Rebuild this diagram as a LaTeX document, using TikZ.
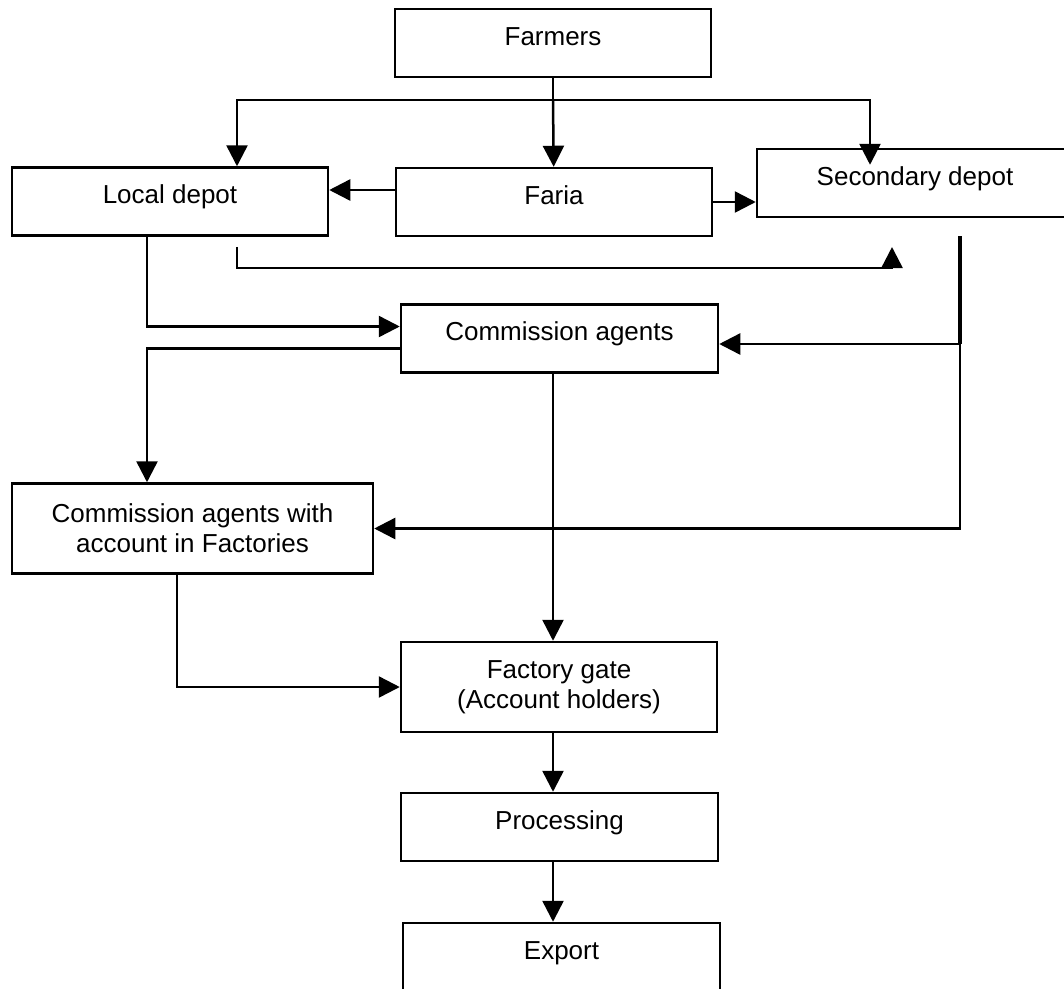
\documentclass[tikz,border=0pt]{standalone}
\usepackage{fontspec}
\setmainfont{Liberation Sans}
\usetikzlibrary{arrows.meta}
\newcommand{\boxwidth}{316pt}
\newcommand{\boxfont}{\fontsize{26pt}{30pt}\selectfont}

\begin{document}
\begin{tikzpicture}[x=1pt,y=-1pt,
  box/.style={draw, line width=2.5pt, minimum width=\boxwidth, inner sep=0pt, font=\boxfont},
  oneline/.style={text height=36pt, text depth=32pt},
  twoline/.style={align=center, minimum height=90pt},
  link/.style={line width=2.5pt},
  arr/.style={link, -{Triangle[length=21pt,width=21pt]}}]

 \useasboundingbox (0,0) rectangle (1064,988);

 \node[box,oneline] (farmers) at (553,43) {Farmers};
 \node[box,oneline] (localdepot) at (170,201.5) {Local depot};
 \node[box,oneline] (faria) at (554,202) {Faria};
 \node[box,oneline] (secdepot) at (915,183) {Secondary depot};
 \node[box,oneline,minimum width=317pt] (agents) at (559.5,338.5) {Commission agents};
 \node[box,twoline,minimum width=361pt] (agentsacc) at (192.5,528.5) {Commission agents with\\account in Factories};
 \node[box,twoline] (gate) at (559,687) {Factory gate\\(Account holders)};
 \node[box,oneline,minimum width=317pt] (processing) at (559.5,827) {Processing};
 \node[box,oneline,minimum width=317pt] (export) at (561.5,957) {Export};

 \coordinate (split) at (553,100);
 \coordinate (sdarrow) at (892,247);
 \coordinate (sdfoot) at (960,236);
 \coordinate (sdknee) at (960,344);

 \draw[link] (farmers) -- (split);
 \draw[arr] (split) -| ([xshift=67pt]localdepot.north);
 \draw[arr] (split) -- (faria);
 \draw[arr] (split) -| ([xshift=-45pt,yshift=-17pt]secdepot.north);
 \draw[arr] ([yshift=12pt]faria.west) -- ([yshift=12pt]faria.west -| localdepot.east);
 \draw[arr] (faria.east) -- (faria.east -| secdepot.west);

 \draw[arr] ([xshift=-23pt]localdepot.south) |- ([yshift=12pt]agents.west);
 \draw[arr] ([xshift=67pt,yshift=-10pt]localdepot.south) |- ([yshift=-21pt]sdarrow) -- (sdarrow);

 \draw[link,line width=4pt] (sdfoot) -- (sdknee);
 \draw[arr] (sdknee) -- (sdknee -| agents.east);
 \draw[arr] (sdknee) |- (agentsacc.east);

 \draw[arr] ([yshift=-10pt]agents.west) -| ([xshift=-45.5pt]agentsacc.north);
 \draw[arr] ([xshift=-6.5pt]agents.south) -- ([xshift=-6pt]gate.north);
 \draw[arr] ([xshift=-15.5pt]agentsacc.south) |- (gate.west);
 \draw[arr] ([xshift=-6pt]gate.south) -- ([xshift=-6.5pt]processing.north);
 \draw[arr] ([xshift=-6.5pt]processing.south) -- ([xshift=-8.5pt]export.north);

\end{tikzpicture}
\end{document}
